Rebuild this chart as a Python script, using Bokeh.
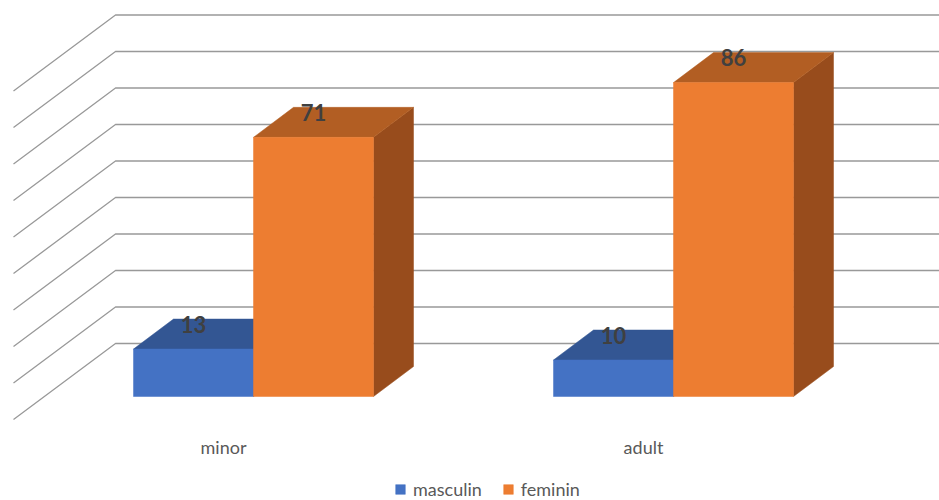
from bokeh.plotting import figure
from bokeh.models import Range1d, Legend, LegendItem
from bokeh.core.properties import value
from bokeh.embed import file_html
from bokeh.resources import INLINE

# ---- data ----
categories = ["minor", "adult"]
series_names = ["masculin", "feminin"]
masculin = [13, 10]
feminin = [71, 86]
grid_values = [0, 10, 20, 30, 40, 50, 60, 70, 80, 90]

# ---- styling / layout ----
W, H = 939, 500
PX_PER_UNIT = 3.65            # vertical pixels per value unit
BASE_PX = 396                 # screen row of value 0 on the front plane
DEPTH_DX = 40                 # horizontal depth offset of the bar boxes (px)
DEPTH_DY = 30 / PX_PER_UNIT   # vertical depth offset of the bar boxes (units)
WALL_DY = 53 / PX_PER_UNIT    # back wall offset (units)
FLOOR_DY = -23 / PX_PER_UNIT  # front edge of the side wall (units)
WALL_X0, WALL_X1 = 13, 115
GROUP_X0, GROUP_STEP, BAR_W = 253, 420, 120

front = {"masculin": "#4472C4", "feminin": "#ED7D31"}
top = {"masculin": "#335693", "feminin": "#B25E23"}
side = {"masculin": "#2B4A80", "feminin": "#984C1C"}
grid_color = "#999999"
font = "Lato"

y_lo = (BASE_PX - H) / PX_PER_UNIT
y_hi = BASE_PX / PX_PER_UNIT

p = figure(width=W, height=H, output_backend="svg", toolbar_location=None,
           x_range=Range1d(0, W), y_range=Range1d(y_lo, y_hi),
           min_border=0, outline_line_color=None)
p.axis.visible = False
p.grid.visible = False
p.background_fill_color = "white"

# ---- perspective gridlines: side wall diagonal + back wall horizontal ----
xs, ys = [], []
for g in grid_values:
    xs.append([WALL_X0, WALL_X1, W])
    ys.append([g + FLOOR_DY, g + WALL_DY, g + WALL_DY])
p.multi_line(xs, ys, line_color=grid_color, line_width=1.3)

# ---- 3D bars ----
legend_items = []
series = {"masculin": masculin, "feminin": feminin}
for s_idx, name in enumerate(series_names):
    vals = series[name]
    fx, fy, tx, ty, sx, sy = [], [], [], [], [], []
    for c_idx, v in enumerate(vals):
        x0 = GROUP_X0 + GROUP_STEP * c_idx + (s_idx - 1) * BAR_W
        x1 = x0 + BAR_W
        fx.append([x0, x1, x1, x0])
        fy.append([0, 0, v, v])
        tx.append([x0, x1, x1 + DEPTH_DX, x0 + DEPTH_DX])
        ty.append([v, v, v + DEPTH_DY, v + DEPTH_DY])
        sx.append([x1, x1 + DEPTH_DX, x1 + DEPTH_DX, x1])
        sy.append([0, DEPTH_DY, v + DEPTH_DY, v])
    p.patches(sx, sy, fill_color=side[name], line_color=side[name], line_width=0.5)
    p.patches(tx, ty, fill_color=top[name], line_color=top[name], line_width=0.5)
    r = p.patches(fx, fy, fill_color=front[name], line_color=front[name], line_width=0.5)
    legend_items.append(LegendItem(label=name, renderers=[r]))

# ---- value labels ----
for s_idx, name in enumerate(series_names):
    vals = series[name]
    lx = [GROUP_X0 + GROUP_STEP * c + (s_idx - 1) * BAR_W + BAR_W / 2 for c in range(len(vals))]
    ly = [v + DEPTH_DY - 1.4 for v in vals]
    p.text(lx, ly, text=[str(v) for v in vals], text_align="center",
           text_baseline="middle", text_font=value(font), text_font_style="bold",
           text_font_size="22px", text_color="#404040")

# ---- category labels ----
cx = [GROUP_X0 + GROUP_STEP * c - 30 for c in range(len(categories))]
cy = [(BASE_PX - 446) / PX_PER_UNIT] * len(categories)
p.text(cx, cy, text=categories, text_align="center", text_baseline="middle",
       text_font=value(font), text_font_size="18px", text_color="#595959")

# ---- legend ----
legend = Legend(items=legend_items, orientation="horizontal", location=(394, 0),
                border_line_color=None, background_fill_alpha=0,
                glyph_width=12, glyph_height=12, label_standoff=7, spacing=20,
                padding=0, margin=0, label_text_font=font,
                label_text_font_size="18px", label_text_color="#595959")
p.add_layout(legend)

open("out.html", "w").write(file_html(p, INLINE))
